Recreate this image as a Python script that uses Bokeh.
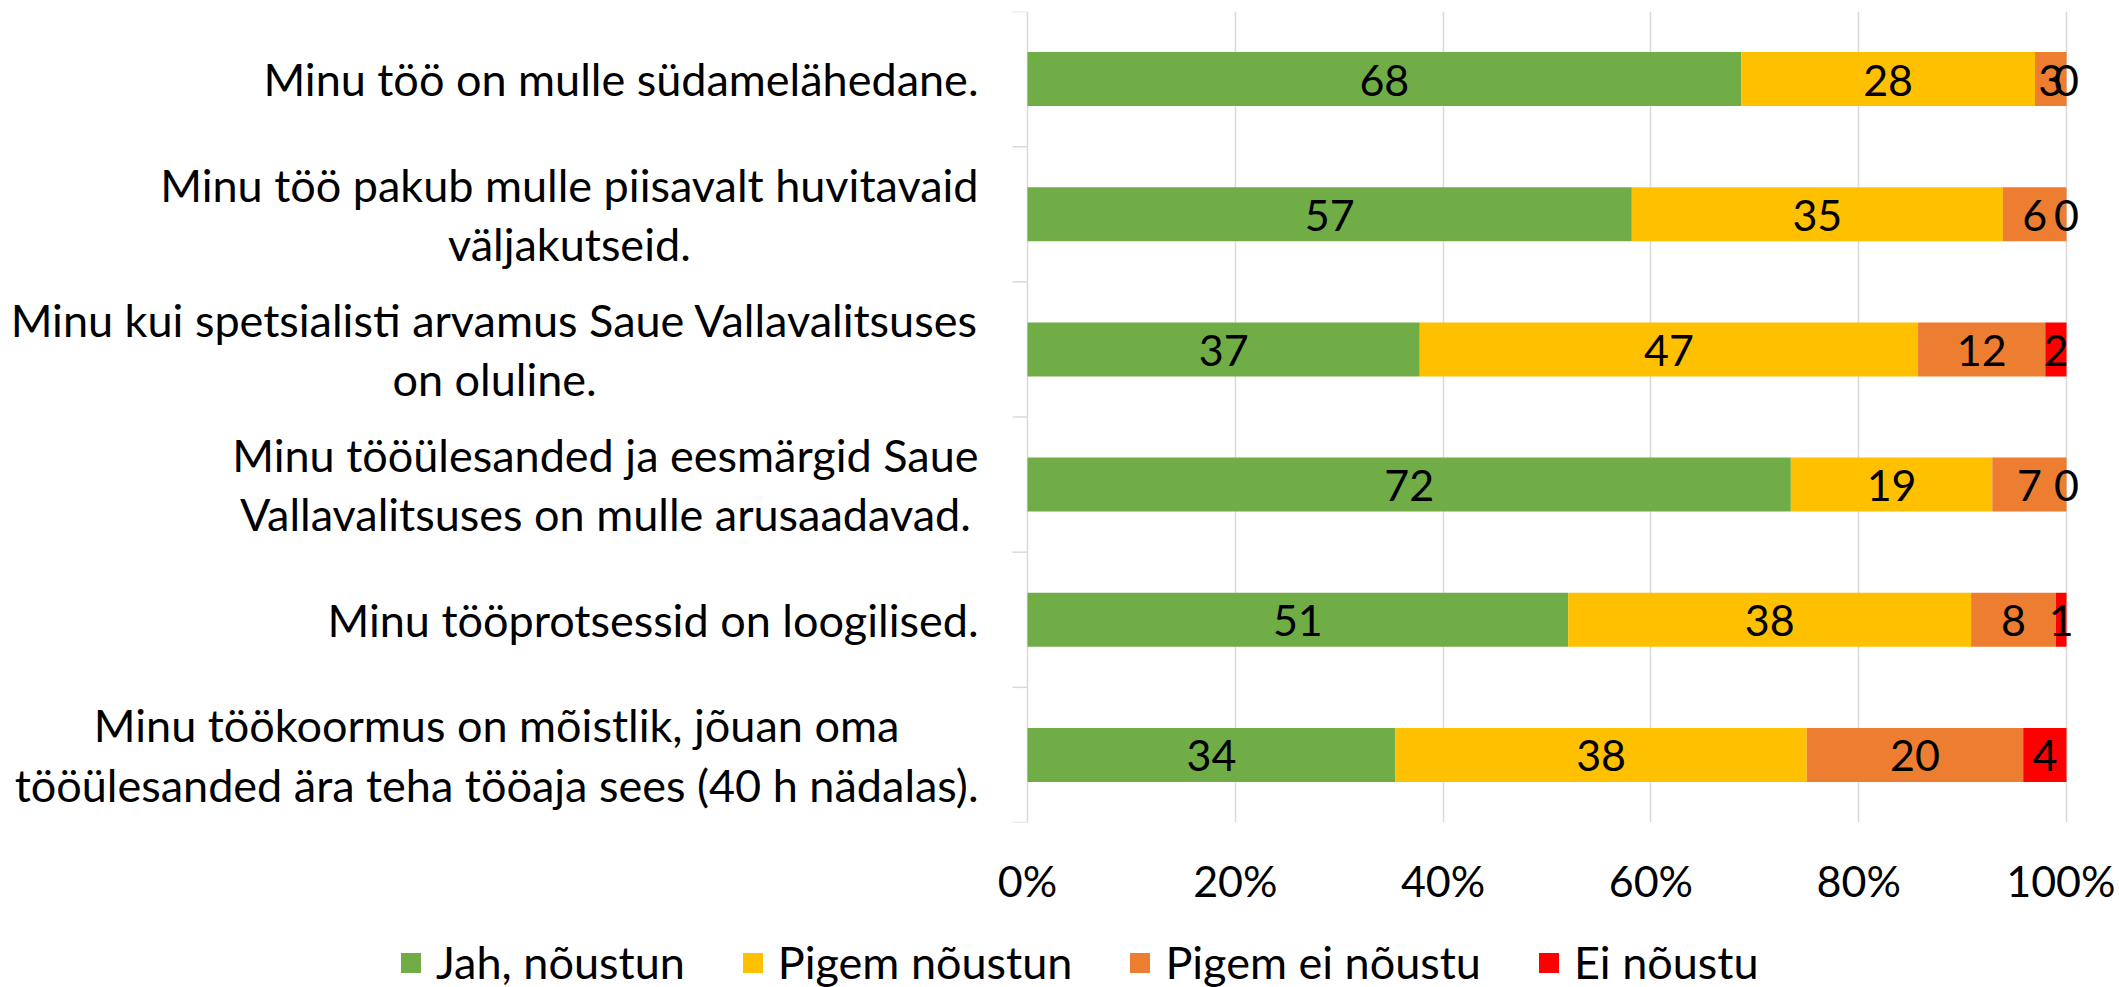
from bokeh.plotting import figure
from bokeh.layouts import column
from bokeh.models import Range1d, FixedTicker, Legend, LegendItem, ColumnDataSource
from bokeh.core.properties import value
from bokeh.embed import file_html
from bokeh.resources import INLINE

# ---- data ----
statements = [
    "Minu töö on mulle südamelähedane.",
    "Minu töö pakub mulle piisavalt huvitavaid\nväljakutseid.",
    "Minu kui spetsialisti arvamus Saue Vallavalitsuses\non oluline.",
    "Minu tööülesanded ja eesmärgid Saue\nVallavalitsuses on mulle arusaadavad.",
    "Minu tööprotsessid on loogilised.",
    "Minu töökoormus on mõistlik, jõuan oma\ntööülesanded ära teha tööaja sees (40 h nädalas).",
]
series_names = ["Jah, nõustun", "Pigem nõustun", "Pigem ei nõustu", "Ei nõustu"]
jah_noustun = [68, 57, 37, 72, 51, 34]
pigem_noustun = [28, 35, 47, 19, 38, 38]
pigem_ei_noustu = [3, 6, 12, 7, 8, 20]
ei_noustu = [0, 0, 2, 0, 1, 4]
tick_values = [0, 20, 40, 60, 80, 100]
tick_labels = ["0%", "20%", "40%", "60%", "80%", "100%"]

# ---- style ----
colors = ["#70AD47", "#FFC000", "#ED7D31", "#FF0000"]
GRID = "#D9D9D9"
FONT = "Lato"
FS_CAT = "45px"
FS_VAL = "43px"
FS_TICK = "43px"
FS_LEG = "45px"

ZERO_PX = 1027          # 0% from frame left, px
SCALE_PX = 1039         # px from 0% to 100%
RIGHT_PAD_PX = 45       # frame room right of 100% (for value labels)
FRAME_W = ZERO_PX + SCALE_PX + RIGHT_PAD_PX
FRAME_H = 811
TOTAL_W = FRAME_W + 4
px = 100.0 / SCALE_PX   # data units per pixel
n = len(statements)

series = [jah_noustun, pigem_noustun, pigem_ei_noustu, ei_noustu]
keys = ["s0", "s1", "s2", "s3"]
totals = [sum(s[i] for s in series) for i in range(n)]
ys = [n - i - 0.5 for i in range(n)]

data = {"y": ys}
for k, s in zip(keys, series):
    data[k] = [100.0 * s[i] / totals[i] for i in range(n)]
src = ColumnDataSource(data)

p = figure(frame_width=FRAME_W, frame_height=FRAME_H,
           x_range=Range1d(-ZERO_PX * px, 100 + RIGHT_PAD_PX * px),
           y_range=Range1d(0, n),
           output_backend="svg", toolbar_location=None,
           y_axis_location=None,
           min_border_left=0, min_border_right=TOTAL_W - FRAME_W, min_border_top=11,
           min_border_bottom=0, outline_line_color=None)

p.ygrid.visible = False
p.xgrid.ticker = FixedTicker(ticks=tick_values)
p.xgrid.grid_line_color = GRID
p.xgrid.grid_line_width = 1.5

renderers = p.hbar_stack(keys, y="y", height=0.4, color=colors,
                         line_color=None, source=src)

# data labels
lx, ly, lt = [], [], []
for i in range(n):
    left = 0.0
    for k, s in zip(keys, series):
        w = data[k][i]
        lx.append(left + w / 2)
        ly.append(ys[i])
        lt.append(str(s[i]))
        left += w
p.text(x=lx, y=ly, text=lt, text_align="center", text_baseline="middle",
       y_offset=1,
       text_font=value(FONT), text_font_size=FS_VAL, text_color="black")

# category axis ticks at category boundaries
tick_len = 15 * px
p.segment(x0=[-tick_len] * (n + 1), x1=[0] * (n + 1),
          y0=list(range(n + 1)), y1=list(range(n + 1)),
          line_color=GRID, line_width=1.5)

# category labels (lines centred, block right-aligned next to the axis)
p.text(x="lx", y="y", text="label",
       source=ColumnDataSource({"lx": [-49 * px] * n, "y": ys, "label": statements}),
       text_align="center", anchor="center_right", text_baseline="middle",
       text_font=value(FONT), text_font_size=FS_CAT, text_color="black",
       text_line_height=1.1)

# x axis
ax = p.xaxis[0]
ax.ticker = FixedTicker(ticks=tick_values)
ax.major_label_overrides = dict(zip(tick_values, tick_labels))
ax.axis_line_color = None
ax.major_tick_line_color = None
ax.minor_tick_line_color = None
ax.major_tick_out = 0
ax.major_label_standoff = 32
ax.major_label_text_font = FONT
ax.major_label_text_font_size = FS_TICK
ax.major_label_text_color = "black"

# ---- legend strip (separate figure below the chart) ----
leg = figure(width=TOTAL_W, height=79, x_range=Range1d(0, 1), y_range=Range1d(0, 1),
             output_backend="svg", toolbar_location=None,
             x_axis_location=None, y_axis_location=None,
             min_border=0, outline_line_color=None)
leg.grid.visible = False
# swatch renderers: one point each, placed outside the visible range
leg_renderers = [leg.hbar(y=[-10], right=[1], height=0.4, color=c, line_color=None)
                 for c in colors]
legend = Legend(items=[LegendItem(label=nm, renderers=[r])
                       for nm, r in zip(series_names, leg_renderers)],
                orientation="horizontal", location=(398, -2),
                glyph_width=25, glyph_height=25, label_standoff=13, spacing=55,
                padding=0, margin=0, border_line_color=None,
                background_fill_alpha=0,
                label_text_font=FONT, label_text_font_size=FS_LEG,
                label_text_color="black", label_height=45)
leg.add_layout(legend, "center")

layout = column(p, leg, spacing=0)
open("out.html", "w").write(file_html(layout, INLINE))
